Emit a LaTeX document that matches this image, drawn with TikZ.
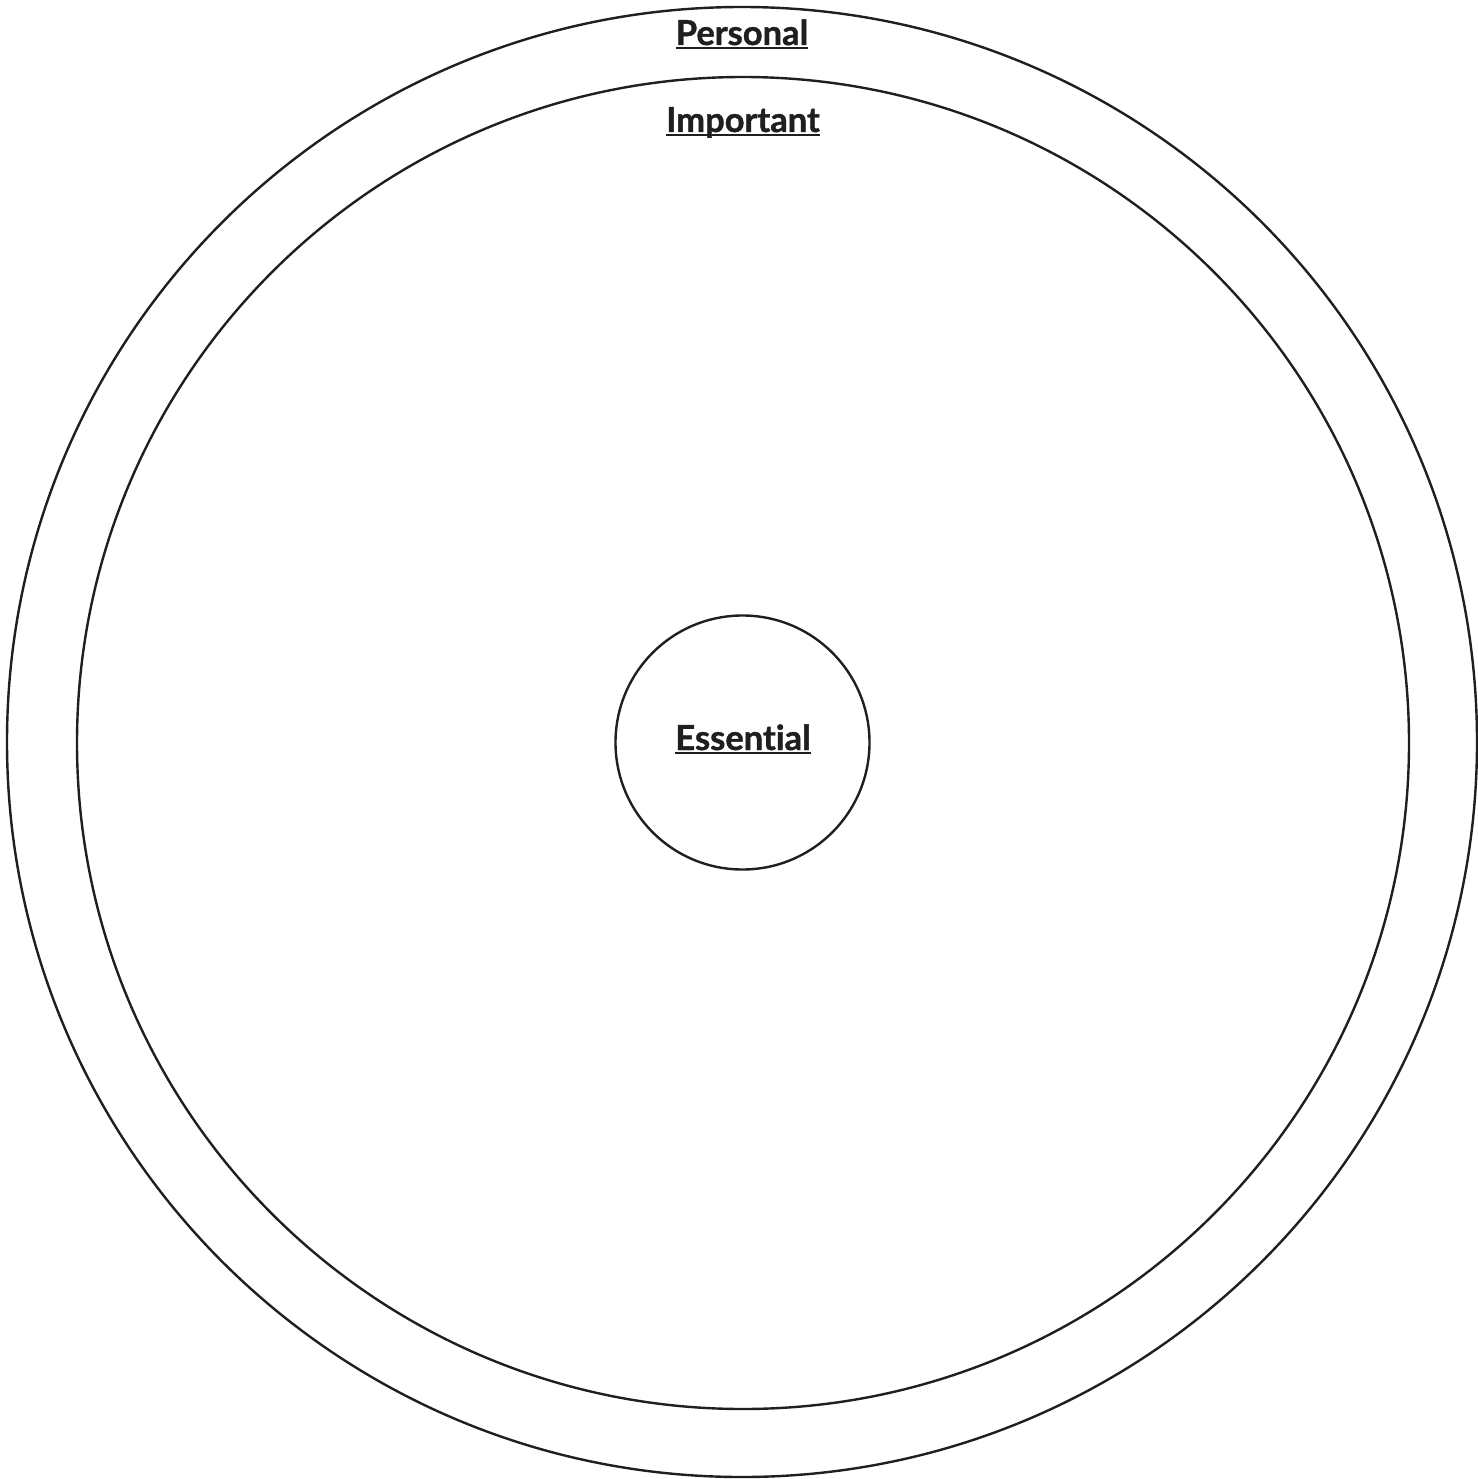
\documentclass[tikz,border=0pt]{standalone}
\usepackage{fontspec}
\setmainfont{Lato}[UprightFont=* Bold, UprightFeatures={FakeBold=1.2}, Ligatures=NoCommon]
\tikzset{
  ring/.style={draw=black!88, line width=2.4pt},
  lbl/.style={inner sep=0pt, anchor=base, text=black!88, font=\fontsize{34.5}{39}\selectfont},
  uline/.style={draw=black!88, line width=1.8pt}
}
\begin{document}
\begin{tikzpicture}[x=1pt,y=-1pt]
\useasboundingbox[fill=white] (0,0) rectangle (1477,1479);
\node[ring, circle, minimum size=1470pt, inner sep=0pt] (outer) at (742,742) {};
\node[ring, circle, minimum size=1332pt, inner sep=0pt] (middle) at (743,743) {};
\node[ring, circle, minimum size=254pt, inner sep=0pt] (inner) at (742.5,742.5) {};
\node[lbl] (pers) at (742,45) {Personal};
\node[lbl] (imp) at (743,132) {Important};
\node[lbl] (ess) at (743,750) {Essential};
\foreach \n in {pers,imp,ess}{
  \draw[uline] ([yshift=-3pt]\n.base west) -- ([yshift=-3pt]\n.base east);
}
\end{tikzpicture}
\end{document}
